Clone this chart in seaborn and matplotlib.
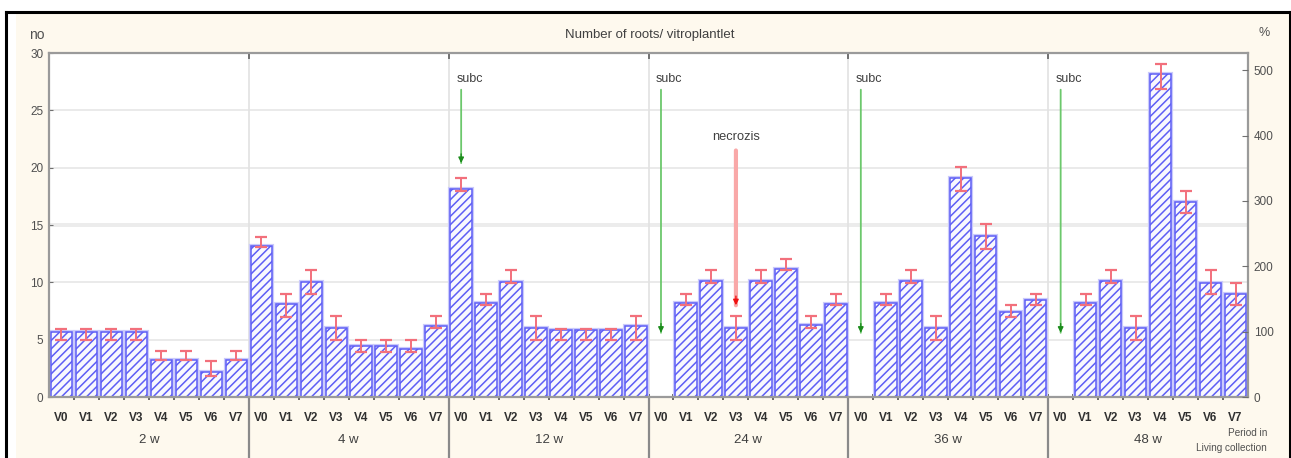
import numpy as np
import pandas as pd
import matplotlib
matplotlib.use("Agg")
import matplotlib.pyplot as plt
import seaborn as sns
from matplotlib.lines import Line2D
from matplotlib.patches import Rectangle
import matplotlib.transforms as mtransforms
import matplotlib.patheffects as pe

# ---------------- data ----------------
groups = ["2 w", "4 w", "12 w", "24 w", "36 w", "48 w"]
variants = ["V0", "V1", "V2", "V3", "V4", "V5", "V6", "V7"]

# mean number of roots per vitroplantlet (nan = no bar)
roots_2w = [5.7, 5.7, 5.7, 5.7, 3.25, 3.25, 2.15, 3.25]
roots_4w = [13.2, 8.15, 10.0, 6.0, 4.45, 4.45, 4.2, 6.15]
roots_12w = [18.1, 8.2, 10.0, 6.0, 5.8, 5.8, 5.8, 6.15]
roots_24w = [np.nan, 8.2, 10.1, 6.0, 10.1, 11.2, 6.3, 8.15]
roots_36w = [np.nan, 8.2, 10.1, 6.0, 19.1, 14.0, 7.45, 8.5]
roots_48w = [np.nan, 8.2, 10.1, 6.0, 28.2, 17.0, 9.9, 9.0]

# upper / lower ends of the error bars
err_hi_2w = [5.9, 5.9, 5.9, 5.9, 4.0, 4.0, 3.15, 4.0]
err_lo_2w = [5.0, 5.0, 5.0, 5.0, 3.2, 3.2, 1.85, 3.2]
err_hi_4w = [13.95, 9.0, 11.1, 7.1, 5.0, 5.0, 5.0, 7.1]
err_lo_4w = [13.05, 7.0, 9.0, 5.0, 3.95, 3.95, 3.95, 6.0]
err_hi_12w = [19.1, 9.0, 11.1, 7.1, 5.9, 5.9, 5.9, 7.1]
err_lo_12w = [18.0, 8.05, 9.9, 5.0, 5.0, 5.0, 5.0, 5.0]
err_hi_24w = [np.nan, 9.0, 11.1, 7.1, 11.1, 12.0, 7.1, 9.0]
err_lo_24w = [np.nan, 8.05, 9.9, 5.0, 9.9, 11.1, 6.0, 8.05]
err_hi_36w = [np.nan, 9.0, 11.1, 7.1, 20.1, 15.1, 8.05, 9.0]
err_lo_36w = [np.nan, 8.05, 9.9, 5.0, 18.0, 12.95, 7.0, 8.05]
err_hi_48w = [np.nan, 9.0, 11.1, 7.1, 29.0, 18.0, 11.1, 9.9]
err_lo_48w = [np.nan, 8.05, 9.9, 5.0, 26.9, 16.05, 9.0, 8.05]

# annotations: (group, variant, text_y, arrow_start_y, arrow_tip_y)
subc_marks = [("12 w", "V0", 27.7, 26.8, 20.4),
              ("24 w", "V0", 27.7, 26.8, 5.6),
              ("36 w", "V0", 27.7, 26.8, 5.6),
              ("48 w", "V0", 27.7, 26.8, 5.6)]
necrozis_mark = ("24 w", "V3", 22.7, 21.5, 8.0)

y_ticks = [0, 5, 10, 15, 20, 25, 30]
pct_ticks = [0, 100, 200, 300, 400, 500]

# ---------------- table ----------------
roots = [roots_2w, roots_4w, roots_12w, roots_24w, roots_36w, roots_48w]
his = [err_hi_2w, err_hi_4w, err_hi_12w, err_hi_24w, err_hi_36w, err_hi_48w]
los = [err_lo_2w, err_lo_4w, err_lo_12w, err_lo_24w, err_lo_36w, err_lo_48w]
rows = []
for g, vals, hi, lo in zip(groups, roots, his, los):
    for v, val, h, l in zip(variants, vals, hi, lo):
        rows.append({"slot": f"{g}|{v}", "group": g, "variant": v,
                     "value": 0.0 if np.isnan(val) else val,
                     "mean": val, "hi": h, "lo": l})
df = pd.DataFrame(rows)
order = list(df["slot"])

# ---------------- figure ----------------
W, H = 1291, 458
fig = plt.figure(figsize=(W / 100, H / 100), dpi=100, facecolor="white")
plt.rcParams["font.family"] = ["Liberation Sans", "DejaVu Sans"]
plt.rcParams["hatch.color"] = "#8c8cf7"
plt.rcParams["hatch.linewidth"] = 1.1

beige = "#fef9ee"
fig.patches.append(Rectangle((16 / W, 0), (1289 - 16) / W, 1 - 13 / H,
                             transform=fig.transFigure, facecolor=beige,
                             edgecolor="none", zorder=-10))
for (x0, y0, x1, y1) in [(6, 12, 6, H), (6, 12, 1290, 12), (1290, 12, 1290, H)]:
    fig.lines.append(Line2D([x0 / W, x1 / W], [1 - y0 / H, 1 - y1 / H],
                            transform=fig.transFigure, color="black", lw=2.2,
                            zorder=5))

ax = fig.add_axes([49 / W, 1 - 397 / H, (1248 - 49) / W, (397 - 53) / H])
ax.set_facecolor("white")

sns.barplot(data=df, x="slot", y="value", order=order, errorbar=None,
            width=0.86, color="#f7f7ff", edgecolor="#5e5ef5", linewidth=1.1,
            hatch="////", ax=ax, zorder=2)
xpos = ax.get_xticks()
for p, val in zip(ax.patches, df["mean"]):
    if np.isnan(val):
        p.set_visible(False)
    else:
        p.set_path_effects([pe.Stroke(linewidth=3.0, foreground="#cacafb"),
                            pe.Normal()])

# error bars
m = df["mean"].to_numpy()
yerr = np.vstack([m - df["lo"].to_numpy(), df["hi"].to_numpy() - m])
ax.errorbar(xpos, m, yerr=yerr, fmt="none", ecolor="#f2707c", elinewidth=1.4,
            capsize=4.2, capthick=1.6, zorder=4)

ax.set_xlim(-0.5, len(order) - 0.5)
ax.set_ylim(0, 30)

# grid
for yv in [5, 10, 20, 25]:
    ax.axhline(yv, color="#e6e6e6", lw=1.2, zorder=0)
ax.axhspan(14.8, 15.2, color="#ececec", lw=0, zorder=0)
bounds = [i * len(variants) - 0.5 for i in range(1, len(groups))]
btrans = mtransforms.blended_transform_factory(ax.transData, ax.transAxes)
for b in bounds:
    ax.axvline(b, color="#e2e2e2", lw=1.2, zorder=0)
    ax.add_line(Line2D([b, b], [0, -61 / 344], transform=btrans,
                       color="#8a8a8a", lw=1.6, clip_on=False))
    ax.add_line(Line2D([b, b], [1, 0.985], transform=btrans,
                       color="#707070", lw=1.4, clip_on=False))

for s in ["left", "right", "top", "bottom"]:
    ax.spines[s].set_color("#9a9a9a")
    ax.spines[s].set_linewidth(1.6)

# x ticks
ax.set_xticks(xpos)
ax.set_xticklabels(list(df["variant"]), fontsize=8.5, fontweight="bold",
                   color="#303030")
ax.tick_params(axis="x", which="major", length=0, pad=11)
ax.set_xticks([i + 0.5 for i in range(len(order) - 1)], minor=True)
ax.tick_params(axis="x", which="minor", length=4, direction="inout",
               color="#505050", width=1.2)
ax.set_xlabel("")
ax.set_ylabel("")
for gi, g in enumerate(groups):
    ax.text(gi * len(variants) + (len(variants) - 1) / 2, -0.125, g,
            transform=btrans, ha="center", va="center", fontsize=9.5,
            color="#404040")

# left y ticks
ax.set_yticks(y_ticks)
ax.set_yticklabels([str(t) for t in y_ticks], fontsize=8.5, color="#505050")
ax.tick_params(axis="y", direction="in", length=3, pad=4, color="#707070")

# right axis in %
ax2 = ax.twinx()
ax2.set_ylim(0, 30 / roots_2w[0] * 100)
ax2.set_yticks(pct_ticks)
ax2.set_yticklabels([str(t) for t in pct_ticks], fontsize=8.5, color="#505050")
ax2.tick_params(axis="y", direction="in", length=4, pad=4, color="#707070")
for s in ["left", "right", "top", "bottom"]:
    ax2.spines[s].set_visible(False)

# annotations
def slot_x(g, v):
    return xpos[order.index(f"{g}|{v}")]

def arrow(x, y0, y1, shaft, head, lw):
    ax.annotate("", xy=(x, y1), xytext=(x, y0),
                arrowprops=dict(arrowstyle="-", color=shaft, lw=lw,
                                shrinkA=0, shrinkB=0), zorder=6)
    ax.annotate("", xy=(x, y1), xytext=(x, y1 + 0.8),
                arrowprops=dict(arrowstyle="-|>", color=head, lw=1.0,
                                mutation_scale=8, shrinkA=0, shrinkB=0),
                zorder=7)

for g, v, ty, y0, y1 in subc_marks:
    x = slot_x(g, v)
    ax.text(x - 0.2, ty, "subc", ha="left", va="center", fontsize=9,
            color="#404040", zorder=6)
    arrow(x, y0, y1, "#6cc86c", "#1c8c1c", 1.3)

g, v, ty, y0, y1 = necrozis_mark
x = slot_x(g, v)
ax.text(x, ty, "necrozis", ha="center", va="center", fontsize=9.3,
        color="#404040", zorder=6)
arrow(x, y0, y1, "#f9a8a8", "#f01010", 3.0)

# figure-level texts
fig.text(650 / W, 1 - 35 / H, "Number of roots/ vitroplantlet", ha="center",
         va="center", fontsize=9.5, color="#404040")
fig.text(37 / W, 1 - 35 / H, "no", ha="center", va="center", fontsize=10,
         color="#505050")
fig.text(1264 / W, 1 - 33 / H, "%", ha="center", va="center", fontsize=9,
         color="#505050")
fig.text(1267 / W, 1 - 433 / H, "Period in", ha="right", va="center",
         fontsize=7.2, color="#505050")
fig.text(1267 / W, 1 - 448 / H, "Living collection", ha="right", va="center",
         fontsize=7.2, color="#505050")

fig.savefig("out.png", dpi=100, facecolor="white")
